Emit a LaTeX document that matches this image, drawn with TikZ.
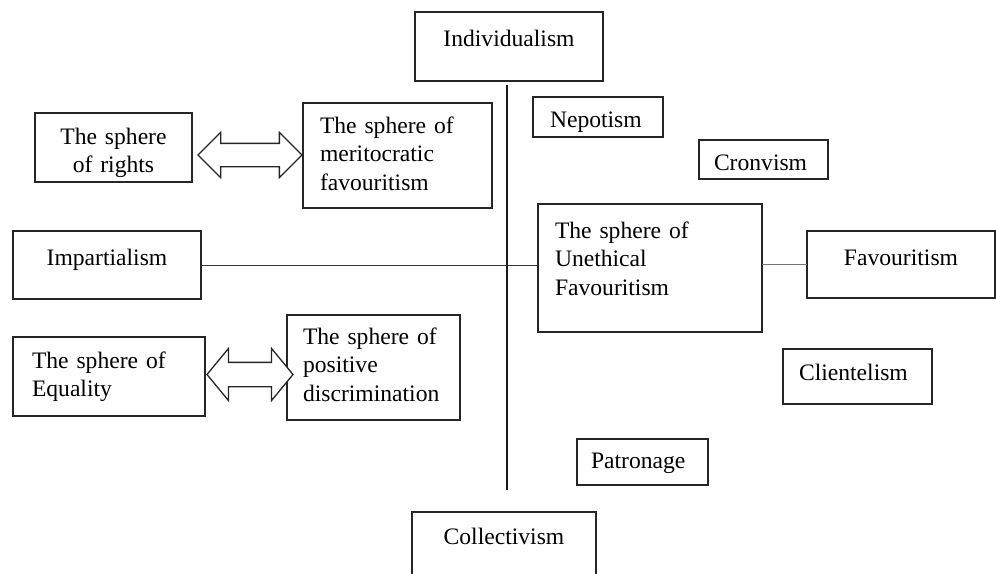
\documentclass[tikz,border=0pt]{standalone}
\usepackage{fontspec}
\setmainfont{Liberation Serif}
\usepackage{tikz}
\usetikzlibrary{shapes.arrows}
\tikzset{>=latex}
\tikzset{bx/.style = {rectangle, draw=black!85, line width=1.8pt, inner sep=0pt, outer sep=0pt, anchor=north west, font=\fontsize{23.6}{28.5}\selectfont}}
\tikzset{cbx/.style = {bx, align=center}}
\tikzset{lbx/.style = {bx, align=left}}
\tikzset{dbl/.style = {double arrow, draw=black!85, fill=white, line width=1.3pt, inner xsep=0pt, outer sep=0pt}}

\begin{document}
\begin{tikzpicture}[x=1pt, y=-1pt]
\useasboundingbox (0,0) rectangle (996,573);
\clip (0,0) rectangle (996,573);
\node [cbx, text width=188pt, text height=34pt, text depth=35pt] (indiv) at (415,12) {Individualism};
\node [cbx, text width=184pt, text height=32pt, text depth=70pt] (coll) at (412,512) {Collectivism};
\node [cbx, text width=157pt, text height=31pt, text depth=38pt] (rights) at (35,113) {The sphere\\of rights};
\node [lbx, inner xsep=17pt, text width=155pt, text height=30pt, text depth=75pt] (merit) at (303,103) {The sphere of\\meritocratic\\favouritism};
\node [cbx, text width=188pt, text height=34pt, text depth=34pt] (imp) at (13,231) {Impartialism};
\node [lbx, inner xsep=19pt, text width=154pt, text height=31pt, text depth=48pt] (equal) at (13,337) {The sphere of\\Equality};
\node [lbx, inner xsep=16pt, text width=141pt, text height=29pt, text depth=76pt] (posit) at (287,315) {The sphere of\\positive\\discrimination};
\node [lbx, inner xsep=17pt, text width=96pt, text height=30pt, text depth=10pt] (nepo) at (533,97) {Nepotism};
\node [lbx, inner xsep=15pt, text width=99pt, text height=30pt, text depth=9pt] (cron) at (699,140) {Cronvism};
\node [lbx, inner xsep=17pt, text width=190pt, text height=34pt, text depth=94pt] (uneth) at (538,204) {The sphere of\\Unethical\\Favouritism};
\node [cbx, text width=188pt, text height=34pt, text depth=33pt] (fav) at (807,231) {Favouritism};
\node [lbx, inner xsep=16pt, text width=117pt, text height=31pt, text depth=24pt] (client) at (783,349) {Clientelism};
\node [lbx, inner xsep=14pt, text width=103pt, text height=29pt, text depth=17pt] (patron) at (577,439) {Patronage};
\node [dbl, inner ysep=11pt, double arrow head extend=11pt, double arrow tip angle=90, minimum height=104pt] (ar1) at (250,155) {};
\node [dbl, inner ysep=11.5pt, double arrow head extend=14pt, double arrow tip angle=101, minimum height=86pt] (ar2) at (250,374.5) {};
\coordinate (vtop) at (507,85);
\coordinate (vbot) at (507,490);
\draw [line width=2pt, draw=black!90] (vtop) to (vbot);
\draw [line width=1pt, draw=black!80] (imp.east) to (imp.east -| uneth.west);
\draw [line width=1pt, draw=black!55] (fav.west -| uneth.east) to (fav.west);
\end{tikzpicture}
\end{document}
